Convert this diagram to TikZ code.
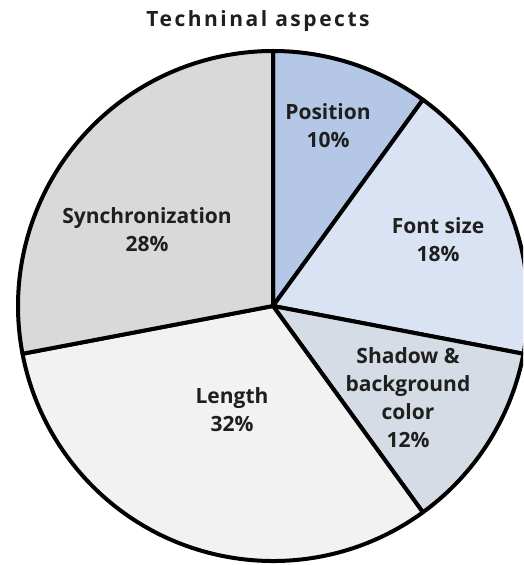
\documentclass[tikz,border=0pt]{standalone}
\usepackage{fontspec}
\setmainfont{Open Sans}
\newfontfamily\titlefont{Open Sans}[LetterSpace=12]
\usetikzlibrary{positioning}

\definecolor{posblue}{HTML}{B4C7E7}
\definecolor{fontblue}{HTML}{DAE3F3}
\definecolor{shadowgray}{HTML}{D6DCE5}
\definecolor{lengthgray}{HTML}{F2F2F2}
\definecolor{syncgray}{HTML}{D9D9D9}

\begin{document}
\begin{tikzpicture}[x=1pt,y=1pt,
    slice/.style={draw=black,line width=4pt,line join=round},
    lbl/.style={font=\bfseries\fontsize{21}{28}\selectfont,align=center,
      text=black!88}]

  \useasboundingbox (0,0) rectangle (523,565);
  \coordinate (c) at (273,259);

  % slices, clockwise from the top
  \begin{scope}
    \clip (0,0) rectangle (523,565);
    \filldraw[slice,fill=posblue] (c) -- ++(90:255)
      arc[start angle=90,end angle=54,radius=255] -- cycle;
    \filldraw[slice,fill=fontblue] (c) -- ++(54:255)
      arc[start angle=54,end angle=-10.8,radius=255] -- cycle;
    \filldraw[slice,fill=shadowgray] (c) -- ++(-10.8:255)
      arc[start angle=-10.8,end angle=-54,radius=255] -- cycle;
    \filldraw[slice,fill=lengthgray] (c) -- ++(-54:255)
      arc[start angle=-54,end angle=-169.2,radius=255] -- cycle;
    \filldraw[slice,fill=syncgray] (c) -- ++(-169.2:255)
      arc[start angle=-169.2,end angle=-270,radius=255] -- cycle;
  \end{scope}

  \node[lbl] (position) at (328,439) {Position\\10\%};
  \node[lbl] (fontsize) at (438,325) {Font size\\18\%};
  \node[lbl] (shadow) at (408,167) {Shadow \&\\background\\color\\12\%};
  \node[lbl] (length) at (232,155) {Length\\32\%};
  \node[lbl] (sync) at (147,335) {Synchronization\\28\%};

  \node[font=\titlefont\bfseries\fontsize{21}{25}\selectfont,text=black!88]
    (title) at (258,544) {Techninal aspects};

\end{tikzpicture}
\end{document}
